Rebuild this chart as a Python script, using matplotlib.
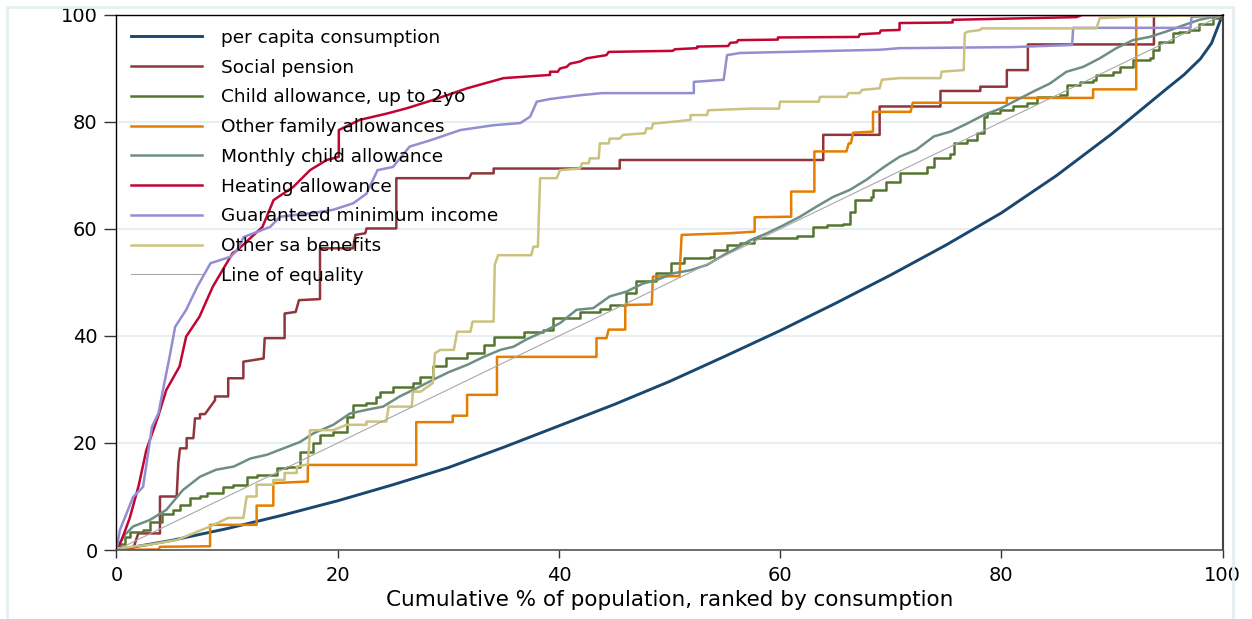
import matplotlib.pyplot as plt
from matplotlib.patches import Rectangle

# Curvas de concentracion: % acumulado de poblacion vs % acumulado del beneficio
pob_consumo = [0, 5, 10, 15, 20, 25, 30, 35, 40, 45, 50, 55, 60, 65, 70, 75, 80, 85, 90, 95, 96.5, 98, 99, 100]
consumo = [0, 1.8, 4.0, 6.5, 9.2, 12.2, 15.4, 19.2, 23.2, 27.2, 31.5, 36.2, 41.0, 46.1, 51.4, 57.0, 63.0, 70.0,
           77.8, 86.3, 88.8, 91.8, 94.7, 100]

pob_pension = [0, 1.52, 1.97, 3.93, 3.93, 5.44, 5.59, 5.74, 6.34, 6.34, 6.95, 7.1, 7.55, 7.55, 8.0, 8.91, 8.91,
               10.1, 10.1, 11.47, 11.47, 13.3, 13.4, 15.2, 15.2, 16.2, 16.5, 18.4, 18.4, 21.4, 21.6, 22.5, 22.6,
               25.3, 25.3, 31.9, 32.1, 34.1, 34.1, 45.5, 45.5, 63.9, 63.9, 69.0, 69.0, 74.5, 74.5, 78.1, 78.1,
               80.5, 80.5, 82.4, 82.4, 93.8, 93.8, 100]
pension = [0, 0.3, 3.1, 3.1, 10, 10, 16.2, 19, 19, 20.9, 20.9, 24.6, 24.6, 25.4, 25.4, 28, 28.7,
           28.7, 32.1, 32.1, 35.2, 35.8, 39.6, 39.6, 44.2, 44.5, 46.7, 46.9, 56.4, 56.4, 58.9, 59.2, 60.1,
           60.1, 69.5, 69.5, 70.4, 70.4, 71.3, 71.3, 72.9, 72.9, 77.6, 77.6, 82.9, 82.9, 85.8, 85.8, 86.6,
           86.6, 89.7, 89.7, 94.5, 94.5, 100, 100]

pob_hijo2 = [0, 0.32, 0.77, 1.22, 2.43, 3.03, 4.08, 5.14, 5.74, 6.65, 7.55, 8.15, 9.66, 10.57, 11.77, 12.67,
             14.48, 15.39, 16.6, 17.8, 18.4, 19.6, 20.8, 21.4, 22.6, 23.5, 23.8, 25.0, 26.8, 27.4, 28.6, 29.8,
             31.7, 33.2, 34.1, 36.8, 38.6, 39.5, 41.9, 43.7, 44.6, 46.1, 47.0, 48.8, 50.1, 51.3, 53.7, 54.0,
             55.2, 56.4, 57.6, 61.2, 61.5, 63.0, 64.2, 65.7, 66.3, 66.8, 68.2, 68.4, 69.6, 70.8, 73.3, 73.9,
             75.4, 75.7, 76.9, 77.8, 78.4, 78.7, 79.9, 81.1, 82.3, 83.2, 85.3, 85.9, 87.1, 88.3, 88.6, 90.1,
             90.7, 91.9, 93.4, 93.7, 94.3, 95.5, 96.1, 97.0, 97.9, 99.1, 100]
hijo2 = [0, 1.2, 2.5, 3.4, 3.7, 5.3, 6.8, 7.5, 8.4, 9.7, 10.0, 10.6, 11.7, 12.2, 13.7, 14.0,
         15.3, 15.6, 18.4, 20.0, 21.5, 22.1, 24.9, 27.1, 27.4, 28.6, 29.6, 30.5, 31.2, 32.4, 34.3, 35.8,
         36.8, 38.3, 39.9, 40.8, 41.2, 43.3, 44.5, 45.0, 45.8, 48.0, 50.2, 51.7, 53.6, 54.5, 54.8, 56.1,
         57.0, 57.3, 58.3, 58.3, 58.6, 60.4, 60.7, 61.0, 63.2, 65.4, 66.0, 67.3, 68.8, 70.4, 71.6, 73.2,
         74.1, 76.0, 76.6, 77.9, 81.0, 81.6, 82.2, 82.9, 83.5, 84.7, 85.0, 86.9, 87.5, 87.8, 88.8, 89.4,
         90.3, 91.6, 91.9, 93.5, 95.0, 96.6, 96.9, 97.2, 98.4, 99.4, 100]

pob_familia = [0, 3.8, 3.93, 8.46, 8.46, 12.67, 12.67, 14.18, 14.18, 17.3, 17.3, 27.1, 27.1, 30.4, 30.4,
               31.7, 31.7, 34.4, 34.4, 43.4, 43.4, 44.3, 44.5, 46.0, 46.0, 48.4, 48.5, 50.9, 51.1, 55.3,
               57.7, 57.7, 61.0, 61.0, 63.1, 63.1, 66.0, 66.2, 66.4, 66.6, 68.4, 68.4, 71.8, 72.0, 80.5,
               80.5, 88.3, 88.3, 92.2, 92.2, 100]
familia = [0, 0.1, 0.6, 0.7, 4.7, 4.7, 8.3, 8.3, 12.5, 12.8, 15.9, 15.9, 23.9, 23.9, 25.1,
           25.1, 29.0, 29.0, 36.1, 36.1, 39.6, 39.6, 41.2, 41.2, 45.8, 45.9, 51.1, 51.2, 58.9, 59.2,
           59.5, 62.2, 62.3, 67.0, 67.0, 74.5, 74.5, 76.0, 76.0, 78.0, 78.2, 81.9, 81.9, 83.6, 83.6,
           84.5, 84.5, 86.1, 86.1, 100, 100]

pob_mensual = [0, 0.6, 1.5, 3.0, 4.5, 6.0, 7.55, 9.0, 10.6, 12.1, 13.6, 15.1, 16.6, 17.8, 19.6, 21.1, 22.6,
               24.1, 25.6, 27.1, 28.6, 30.1, 31.7, 33.2, 34.7, 35.9, 37.1, 38.6, 40.1, 41.6, 43.1, 44.6,
               46.1, 47.6, 48.9, 50.3, 51.9, 53.4, 55.2, 55.8, 57.3, 58.8, 60.3, 61.8, 63.3, 64.8, 66.3,
               67.8, 69.4, 70.8, 72.3, 73.9, 75.4, 76.9, 78.4, 79.9, 81.4, 82.9, 84.4, 85.9, 87.4, 88.9,
               90.4, 91.9, 93.4, 94.9, 96.5, 97.9, 100]
mensual = [0, 2.5, 4.4, 5.6, 7.5, 11.2, 13.7, 15.0, 15.6, 17.1, 17.8, 19.0, 20.2, 21.8, 23.4, 25.5, 26.2,
           26.8, 28.7, 30.2, 31.8, 33.3, 34.6, 36.1, 37.4, 38.0, 39.4, 40.8, 42.4, 44.9, 45.2, 47.4,
           48.3, 49.8, 50.5, 51.7, 52.3, 53.3, 55.5, 56.1, 57.9, 59.2, 60.7, 62.3, 64.2, 66.0, 67.3,
           69.2, 71.6, 73.5, 74.8, 77.3, 78.2, 79.7, 81.3, 82.5, 84.1, 85.7, 87.2, 89.4, 90.3, 91.9,
           93.8, 95.3, 95.9, 96.9, 98.1, 99.1, 100]

pob_calefaccion = [0, 0.47, 1.2, 2.0, 2.7, 3.75, 4.5, 5.7, 6.3, 7.5, 8.7, 10.5, 10.9, 13.2, 14.2, 16.0, 17.5,
                   19.0, 20.1, 20.1, 22.0, 24.5, 26.3, 28.6, 31.7, 35.0, 39.2, 39.2, 39.9, 40.1, 40.7, 41.0,
                   41.9, 42.5, 43.4, 44.3, 44.5, 50.3, 50.5, 52.5, 52.5, 55.3, 55.5, 56.1, 56.2, 59.8, 59.8,
                   67.1, 67.2, 69.0, 69.1, 70.8, 70.8, 75.6, 75.6, 86.8, 87.3, 100]
calefaccion = [0, 1.9, 6.0, 12.0, 18.7, 24.9, 29.9, 34.3, 39.9, 43.6, 49.2, 55.5, 56.0, 60.4, 65.4, 67.9, 71.0,
               72.9, 73.5, 78.5, 80.4, 81.6, 82.6, 84.1, 86.3, 88.2, 88.8, 89.4, 89.4, 90.0, 90.3, 90.9,
               91.3, 91.9, 92.2, 92.5, 93.1, 93.3, 93.6, 93.8, 94.1, 94.2, 94.8, 94.9, 95.3, 95.4, 95.8,
               95.9, 96.4, 96.6, 97.1, 97.2, 98.5, 98.6, 99.1, 99.6, 100, 100]

pob_gmi = [0, 0.3, 1.5, 2.4, 2.9, 3.2, 3.8, 4.2, 4.8, 5.3, 6.3, 7.3, 8.5, 10.3, 10.9, 11.5, 13.9, 14.8, 17.8,
           19.6, 21.4, 22.6, 23.6, 25.0, 26.5, 28.4, 31.1, 34.1, 36.5, 37.4, 38.0, 39.2, 41.9, 43.9, 52.2,
           52.2, 54.9, 55.2, 56.4, 69.0, 70.8, 81.0, 86.4, 86.5, 97.1, 97.2, 100]
gmi = [0, 3.7, 9.9, 11.8, 18.7, 23.0, 25.6, 29.9, 36.1, 41.7, 44.9, 49.2, 53.6, 54.8, 56.0, 58.5, 60.4, 62.3, 63.0,
       63.6, 64.8, 66.6, 71.0, 71.6, 75.4, 76.6, 78.5, 79.4, 79.8, 81.0, 83.8, 84.3, 85.0, 85.4, 85.4,
       87.5, 87.9, 92.5, 92.9, 93.5, 93.8, 94.0, 94.4, 97.6, 97.6, 99.6, 100]

pob_otras = [0, 0.16, 3.0, 5.5, 8.46, 10.1, 11.47, 11.77, 12.67, 12.67, 14.18, 14.18, 15.2, 15.2, 16.3, 16.3,
             17.3, 17.5, 19.6, 20.8, 22.6, 22.6, 24.4, 24.6, 26.7, 26.8, 27.5, 28.6, 28.8, 29.3, 30.5, 30.8,
             32.0, 32.2, 34.1, 34.2, 34.5, 37.5, 37.7, 38.1, 38.3, 39.8, 40.1, 41.9, 42.1, 42.7, 42.8, 43.6,
             43.7, 44.5, 44.6, 45.5, 45.8, 47.8, 47.9, 48.4, 48.5, 50.6, 51.9, 51.9, 53.4, 53.5, 57.4, 59.9,
             60.0, 63.5, 63.6, 66.0, 66.2, 67.2, 67.4, 69.0, 69.2, 70.8, 74.5, 74.6, 76.6, 76.7, 77.0, 78.1,
             78.2, 88.6, 88.9, 92.0, 100]
otras = [0, 0.3, 1.0, 1.9, 4.4, 6.0, 6.0, 10.0, 10.0, 12.2, 12.2, 13.1, 13.1, 14.4, 14.4, 15.6,
         16.0, 22.4, 22.4, 23.4, 23.4, 24.0, 24.0, 26.8, 26.8, 29.6, 29.6, 31.2, 36.8, 37.4, 37.4, 40.8,
         40.8, 42.7, 42.7, 53.3, 55.1, 55.1, 56.7, 56.7, 69.5, 69.5, 71.0, 71.3, 72.3, 72.3, 73.2, 73.2,
         76.0, 76.0, 76.9, 76.9, 77.6, 77.9, 78.8, 78.8, 79.7, 80.1, 80.4, 81.3, 81.3, 82.2, 82.5, 82.5,
         83.8, 83.8, 84.7, 84.7, 85.4, 85.4, 86.0, 86.3, 87.9, 88.2, 88.2, 89.4, 89.7, 96.6, 96.9, 97.2,
         97.5, 97.5, 99.4, 99.7, 100]

equidad = [0, 100]

plt.rcParams['font.family'] = 'DejaVu Sans'

fig = plt.figure(figsize=(12.52, 6.19), dpi=100)
ax = fig.add_axes([0.09305, 0.11147, 0.88339, 0.8643])

# Marco claro alrededor del grafico
fig.patches.append(Rectangle((0.0056, -0.05), 0.9792, 1.0387, transform=fig.transFigure,
                             fill=False, edgecolor='#e6eef2', linewidth=2))

lw = 1.8
ax.plot(pob_consumo, consumo, color='#1a476f', lw=2.1, label='per capita consumption')
ax.plot(pob_pension, pension, color='#90353b', lw=lw, label='Social pension')
ax.plot(pob_hijo2, hijo2, color='#55752f', lw=lw, drawstyle='steps-post', label='Child allowance, up to 2yo')
ax.plot(pob_familia, familia, color='#e37e00', lw=lw, label='Other family allowances')
ax.plot(pob_mensual, mensual, color='#6e8e84', lw=lw, label='Monthly child allowance')
ax.plot(pob_calefaccion, calefaccion, color='#c10534', lw=lw, label='Heating allowance')
ax.plot(pob_gmi, gmi, color='#938dd2', lw=lw, label='Guaranteed minimum income')
ax.plot(pob_otras, otras, color='#cac27e', lw=lw, label='Other sa benefits')
ax.plot(equidad, equidad, color='#a8a8a8', lw=0.8, label='Line of equality')

ax.set_xlim(0, 100)
ax.set_ylim(0, 100)
ax.set_xticks([0, 20, 40, 60, 80, 100])
ax.set_yticks([0, 20, 40, 60, 80, 100])
ax.tick_params(axis='both', labelsize=14, width=1, color='#333333')
ax.tick_params(axis='x', length=5.8, pad=5.5)
ax.tick_params(axis='y', length=8.6, pad=5)
ax.grid(axis='y', color='#e8eff2', lw=1.5)
ax.set_axisbelow(True)
for lado in ['left', 'top']:
    ax.spines[lado].set_color('black')
    ax.spines[lado].set_linewidth(1)
ax.spines['right'].set_color('#444444')
ax.spines['right'].set_linewidth(1.5)
ax.spines['bottom'].set_color('#555555')
ax.spines['bottom'].set_linewidth(1.2)

ax.set_xlabel('Cumulative % of population, ranked by consumption', fontsize=15.5, labelpad=4)

ax.legend(loc='upper left', bbox_to_anchor=(0.013, 0.974), frameon=False, fontsize=13.3,
          handlelength=3.85, handletextpad=1.03, labelspacing=0.635, borderpad=0, borderaxespad=0)

plt.savefig('out.png', dpi=100)
plt.close()
